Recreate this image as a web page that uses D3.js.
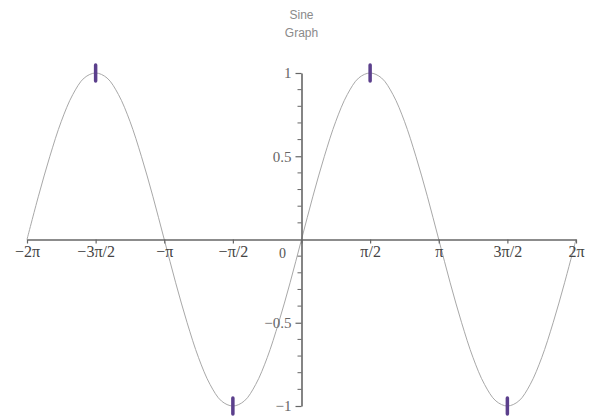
<!DOCTYPE html>
<html><head><meta charset="utf-8">
<script src="https://cdn.jsdelivr.net/npm/d3@7"></script>
<style>body{margin:0;background:#fff}svg{display:block}</style>
</head><body>
<svg id="c" width="589" height="417"></svg>
<script>
// x in multiples of pi
const xTickValues = [-2, -1.5, -1, -0.5, 0, 0.5, 1, 1.5, 2];
const xTickLabels = ["\u22122\u03c0", "\u22123\u03c0/2", "\u2212\u03c0", "\u2212\u03c0/2", "", "\u03c0/2", "\u03c0", "3\u03c0/2", "2\u03c0"];
const yTickValues = [1, 0.5, -0.5, -1];
const yTickLabels = ["1", "0.5", "\u22120.5", "\u22121"];
const yMinorTicks = [0.9,0.8,0.7,0.6,0.4,0.3,0.2,0.1,-0.1,-0.2,-0.3,-0.4,-0.6,-0.7,-0.8,-0.9];
// curve samples every pi/12 from -2pi to 2pi
const curveX = [-2,-1.9167,-1.8333,-1.75,-1.6667,-1.5833,-1.5,-1.4167,-1.3333,-1.25,-1.1667,-1.0833,-1,-0.9167,-0.8333,-0.75,-0.6667,-0.5833,-0.5,-0.4167,-0.3333,-0.25,-0.1667,-0.0833,0,0.0833,0.1667,0.25,0.3333,0.4167,0.5,0.5833,0.6667,0.75,0.8333,0.9167,1,1.0833,1.1667,1.25,1.3333,1.4167,1.5,1.5833,1.6667,1.75,1.8333,1.9167,2];
const curveY = [0,0.26,0.5,0.71,0.87,0.97,1,0.97,0.87,0.71,0.5,0.26,0,-0.26,-0.5,-0.71,-0.87,-0.97,-1,-0.97,-0.87,-0.71,-0.5,-0.26,0,0.26,0.5,0.71,0.87,0.97,1,0.97,0.87,0.71,0.5,0.26,0,-0.26,-0.5,-0.71,-0.87,-0.97,-1,-0.97,-0.87,-0.71,-0.5,-0.26,0];
const markerX = [-1.5, -0.5, 0.5, 1.5];
const markerY = [1, -1, 1, -1];
const titleLines = ["Sine", "Graph"];

const svg = d3.select("#c");
const x = d3.scaleLinear().domain([-2, 2]).range([27, 576]);
const y = d3.scaleLinear().domain([-1, 1]).range([406, 73]);
const axisColor = "#666";
const serif = "'Liberation Serif','DejaVu Serif',serif";

// title
svg.selectAll("text.title").data(titleLines).enter().append("text")
  .attr("x", x(0)).attr("y", (d,i)=>19 + i*18)
  .attr("text-anchor","middle").attr("font-family","'Liberation Sans',Arial,sans-serif")
  .attr("font-size", 12).attr("fill", "#8a8a8a").text(d=>d);

// curve
const pts = curveX.map((v,i)=>[v, curveY[i]]);
svg.append("path").datum(pts)
  .attr("d", d3.line().x(d=>x(d[0])).y(d=>y(d[1])).curve(d3.curveCatmullRom))
  .attr("fill","none").attr("stroke","#a8a8a8").attr("stroke-width",1);

// x axis
const xAxis = d3.axisBottom(x).tickValues(xTickValues)
  .tickFormat((d,i)=>xTickLabels[i]).tickSize(4).tickPadding(2).tickSizeOuter(0);
const gx = svg.append("g").attr("transform", `translate(0,${y(0)})`).call(xAxis);
gx.select(".domain").attr("stroke", axisColor).attr("stroke-width", 1.6);
gx.selectAll(".tick line").attr("stroke", axisColor).attr("stroke-width", 1.2);
gx.selectAll(".tick text").attr("font-family", serif).attr("font-size", 16).attr("fill", "#444");

// y axis
const yAxis = d3.axisLeft(y).tickValues(yTickValues)
  .tickFormat((d,i)=>yTickLabels[i]).tickSize(6).tickPadding(4).tickSizeOuter(0);
const gy = svg.append("g").attr("transform", `translate(${x(0)},0)`).call(yAxis);
gy.select(".domain").attr("stroke", axisColor).attr("stroke-width", 1.6);
gy.selectAll(".tick line").attr("stroke", axisColor).attr("stroke-width", 1.2);
gy.selectAll(".tick text").attr("font-family", serif).attr("font-size", 15).attr("fill", "#666");
gy.selectAll(".minor").data(yMinorTicks).enter().append("line").attr("class","minor")
  .attr("x1", -4).attr("x2", 0).attr("y1", d=>y(d)).attr("y2", d=>y(d))
  .attr("stroke", axisColor).attr("stroke-width", 1);

// origin label
svg.append("text").attr("x", x(0)-19).attr("y", y(0)+18)
  .attr("text-anchor","middle").attr("font-family", serif).attr("font-size", 14)
  .attr("fill","#555").text("0");

// markers
svg.selectAll("line.mk").data(markerX).enter().append("line").attr("class","mk")
  .attr("x1", d=>x(d)).attr("x2", d=>x(d))
  .attr("y1", (d,i)=>y(markerY[i])-8).attr("y2", (d,i)=>y(markerY[i])+8)
  .attr("stroke", "#5b3f8c").attr("stroke-width", 3.5).attr("stroke-linecap","round");
</script>
</body></html>
